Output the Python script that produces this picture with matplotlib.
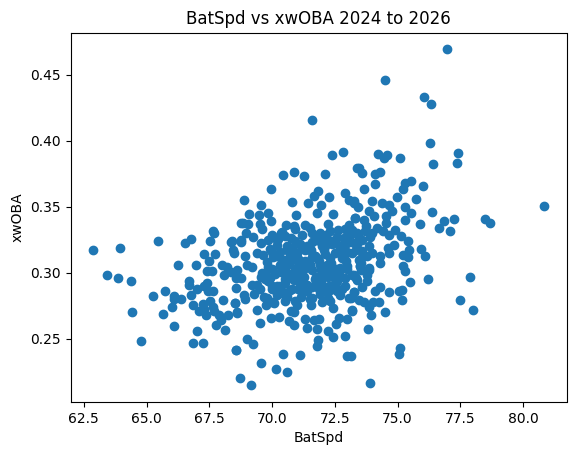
import matplotlib
matplotlib.use('Agg')
import matplotlib.pyplot as plt

bat_speed = [
62.87,63.95,65.46,66.54,66.77,67.65,67.69,67.53,68.37,68.75,68.75,68.45,67.29,67.73,67.49,66.26,66.97,67.42,67.62,68.02,68.22,68.09,68.35,68.55,
63.43,63.87,64.38,65.26,65.74,66.10,66.38,66.10,66.02,66.69,66.69,66.77,67.01,67.29,67.41,67.45,67.65,67.53,68.04,66.85,67.25,67.09,67.29,67.37,67.65,67.69,67.89,68.25,68.53,68.62,
64.41,65.66,66.10,67.01,67.77,67.98,68.13,64.78,66.84,67.25,68.57,68.73,
72.39,72.83,73.40,70.44,70.88,71.28,72.12,69.96,68.89,69.57,70.80,72.91,71.84,72.27,71.68,71.44,73.07,73.27,69.09,69.49,69.82,68.85,69.05,69.53,69.61,69.96,70.96,72.41,71.94,71.81,73.31,70.55,70.88,71.30,72.24,72.61,73.07,
68.95,68.78,69.25,68.42,70.35,70.22,69.82,69.55,70.75,71.61,71.81,72.21,72.87,73.27,71.15,71.54,70.60,72.07,73.00,73.34,69.62,70.02,68.91,68.49,70.48,71.08,71.81,72.34,72.94,73.47,69.22,69.82,68.62,71.48,71.94,70.35,70.88,72.67,73.20,69.55,71.28,72.21,
69.01,69.25,69.57,70.44,71.12,70.16,70.60,72.99,72.91,71.84,71.80,72.23,72.41,69.53,70.68,70.88,71.32,71.40,71.68,71.88,71.80,70.75,70.88,72.54,72.67,72.97,73.20,69.95,70.28,70.08,69.75,69.42,68.62,68.53,68.93,71.54,72.41,73.07,73.27,72.21,71.61,71.15,70.61,69.68,68.56,69.42,70.35,71.41,72.47,73.34,70.88,69.82,68.76,71.94,
76.30,77.41,77.37,76.42,74.23,74.47,74.56,75.10,73.47,73.59,74.11,74.31,74.11,73.67,75.54,75.30,75.22,76.02,74.96,75.74,73.27,73.43,73.99,74.36,74.66,75.30,73.87,74.07,74.76,75.54,76.38,74.55,75.30,73.67,73.73,73.30,74.53,75.90,76.86,77.25,76.66,77.09,74.20,74.40,74.90,74.66,75.13,75.42,73.20,73.92,73.47,73.27,73.87,74.86,74.60,75.46,75.93,76.10,75.20,75.42,74.66,74.31,73.60,73.80,73.20,73.54,74.31,75.22,73.87,
75.30,75.50,76.22,77.89,77.49,78.01,74.31,74.66,75.06,75.17,75.18,74.27,74.03,74.50,73.95,73.87,73.67,73.47,73.27,73.14,73.20,73.83,75.10,75.06,73.91,73.14,73.53,73.87,73.27,73.38,73.80,
76.98,74.49,71.58,76.05,76.32,80.83,78.50,78.70,68.57,69.17,
70.2,70.5,70.8,71.1,71.4,71.7,72.0,72.3,72.6,72.9,70.3,70.7,71.0,71.3,71.6,71.9,72.2,72.5,72.8,73.0,69.9,70.1,70.6,71.0,71.5,72.0,72.4,72.7,69.7,70.0,70.4,70.9,71.2,71.7,72.1,72.6,
70.0,70.4,70.9,71.2,71.5,71.9,72.3,72.6,72.9,73.1,73.4,73.6,
70.2,70.6,70.9,71.3,71.6,72.0,72.4,72.7,73.0,73.4,73.6,70.0,
69.8,70.2,70.6,71.0,71.3,71.7,72.1,72.2,72.85,73.5,70.4,71.5,
69.6,70.0,70.5,70.8,71.2,71.6,72.0,72.4,72.7,73.0,69.9,71.0,
69.5,70.0,70.3,70.7,71.1,71.4,71.8,72.1,72.5,72.8,70.5,71.6,
69.8,70.2,70.5,70.9,71.2,71.5,71.9,72.3,72.7,70.0,71.0,72.0,
73.7,74.0,73.5,74.0,73.8,73.6,74.1,69.0,69.2,68.9,69.3,69.4,
70.1,70.5,70.8,71.1,71.4,71.8,72.15,72.5,72.8,70.3,70.7,71.1,71.5,71.85,72.3,72.55,
70.1,70.6,71.0,71.35,71.75,72.15,72.5,72.9,70.2,70.6,71.05,71.45,71.85,72.25,72.6,69.7,
]
xwoba = [
.3172,.3187,.3240,.3225,.3255,.3313,.3300,.3240,.3232,.3376,.3237,.3174,.3141,.3141,.3088,.3058,.3058,.3013,.3013,.3060,.3048,.2985,.3010,.2960,
.2982,.2960,.2937,.2823,.2861,.2823,.2800,.2800,.2740,.2937,.2907,.2830,.2876,.2899,.2922,.2861,.2861,.2785,.2793,.2755,.2763,.2710,.2725,.2680,.2740,.2710,.2680,.2680,.2770,.2702,
.2702,.2687,.2596,.2558,.2604,.2641,.2566,.2482,.2467,.2467,.2414,.2202,
.3892,.3912,.3793,.3740,.3763,.3732,.3748,.3634,.3551,.3513,.3536,.3604,.3619,.3573,.3578,.3528,.3553,.3528,.3445,.3440,.3452,.3376,.3371,.3371,.3331,.3392,.3440,.3447,.3515,.3452,.3414,.3364,.3351,.3364,.3371,.3326,.3364,
.3301,.3250,.3270,.3238,.3301,.3255,.3245,.3225,.3263,.3301,.3250,.3250,.3263,.3301,.3200,.3174,.3174,.3174,.3225,.3174,.3137,.3119,.3129,.3149,.3099,.3099,.3111,.3073,.3086,.3099,.3048,.3048,.3023,.3048,.3023,.3010,.2998,.2998,.2985,.2972,.2972,.2972,
.2498,.2460,.2316,.2384,.2377,.2270,.2248,.2369,.2520,.2493,.2445,.2558,.2513,.2619,.2634,.2604,.2649,.2581,.2644,.2654,.2574,.2712,.2705,.2611,.2657,.2649,.2715,.2657,.2669,.2770,.2758,.2720,.2700,.2770,.2801,.2758,.2733,.2808,.2859,.2808,.2808,.2821,.2821,.2821,.2884,.2909,.2871,.2909,.2897,.2960,.2947,.2935,.2960,.2947,
.3980,.3907,.3831,.3824,.3902,.3869,.3892,.3869,.3793,.3755,.3750,.3766,.3672,.3634,.3695,.3680,.3634,.3657,.3574,.3558,.3541,.3495,.3543,.3528,.3513,.3498,.3470,.3432,.3468,.3452,.3460,.3432,.3399,.3402,.3356,.3415,.3377,.3369,.3394,.3407,.3339,.3316,.3339,.3314,.3326,.3288,.3276,.3243,.3326,.3273,.3263,.3225,.3200,.3213,.3187,.3175,.3182,.3127,.3137,.3119,.3149,.3124,.3162,.3124,.3149,.3074,.3074,.3053,.3036,
.3013,.2930,.2952,.2968,.2796,.2718,.2892,.2854,.2861,.2869,.2793,.2778,.2778,.2702,.2680,.2740,.2783,.2796,.2859,.2808,.2720,.2574,.2430,.2384,.2165,.2369,.3023,.3023,.2985,.2947,.2985,
.4690,.4455,.4159,.4333,.4280,.3509,.3409,.3380,.2417,.2149,
.2900,.2920,.2880,.2930,.2890,.2950,.2910,.2870,.2940,.2900,.3060,.3080,.3100,.3040,.3120,.3060,.3000,.3150,.3110,.3050,.3180,.3000,.3200,.3150,.3060,.3260,.3220,.3180,.3000,.2880,.2850,.3030,.2980,.3130,.3200,.3000,
.3285,.3310,.3330,.3290,.3340,.3300,.3320,.3270,.3330,.3290,.3300,.3250,
.3210,.3190,.3240,.3170,.3230,.3200,.3240,.3190,.3160,.3220,.3120,.3160,
.3080,.3130,.3060,.3120,.3090,.3130,.3140,.3060,.3130,.3050,.3100,.3060,
.3000,.3030,.3040,.2960,.3010,.3020,.2990,.3030,.3040,.3030,.2960,.3040,
.2880,.2900,.2900,.2870,.2920,.2860,.2920,.2870,.2920,.2880,.2950,.2890,
.2810,.2830,.2790,.2790,.2850,.2800,.2840,.2790,.2830,.2780,.2760,.2780,
.3320,.3300,.3050,.3150,.2940,.2890,.2860,.3060,.2910,.2830,.2840,.3150,
.3260,.3280,.3190,.3220,.3200,.3250,.3290,.3230,.3210,.3160,.3130,.3060,.3170,.3090,.3110,.3030,
.2990,.3000,.2990,.3050,.2970,.3030,.2980,.2960,.2850,.2840,.2880,.2900,.2880,.2900,.2860,.2950,
]

fig = plt.figure(figsize=(5.75, 4.55), dpi=100)
ax = fig.add_axes([70.5/575, 1-402.2/455, 496/575, 369.6/455])
ax.scatter(bat_speed, xwoba)
ax.set_xlabel('BatSpd')
ax.set_ylabel('xwOBA')
ax.set_title('BatSpd vs xwOBA 2024 to 2026')
fig.savefig('out.png', dpi=100)
